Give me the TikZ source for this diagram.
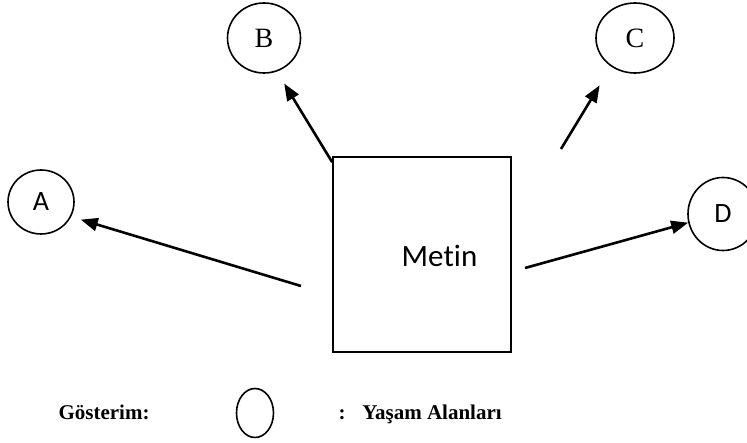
\documentclass[tikz,border=0pt]{standalone}
\usepackage{fontspec}
\setmainfont{Liberation Serif}
\newfontfamily\calibri[Ligatures=NoCommon]{Carlito}
\usetikzlibrary{arrows.meta,shapes.geometric}

\begin{document}
\begin{tikzpicture}[x=1pt, y=-1pt,
		place/.style={draw, ellipse, line width=1.6pt, inner sep=0pt},
		link/.style={-{Triangle[length=17pt,width=13pt]}, line width=2.6pt},
		sans/.style={font=\calibri\fontsize{28}{32}\selectfont},
		serif/.style={font=\fontsize{28}{32}\selectfont},
		legend/.style={font=\fontsize{21}{25}\selectfont\bfseries}]
		%%%%% START %%%%%
		
		\useasboundingbox (0, 0) rectangle (747, 443);
		
		\node[place, sans, minimum width=66pt, minimum height=64pt] (A) at (41, 202) {A};
		\node[place, serif, minimum width=73pt, minimum height=70pt] (B) at (264, 38) {B};
		\node[place, serif, minimum width=78pt, minimum height=70pt] (C) at (635, 38) {C};
		\node[place, sans, minimum width=70pt, minimum height=73pt] (D) at (723, 214) {D};
		
		\node[draw, line width=1.6pt, minimum width=178pt, minimum height=195pt, inner sep=0pt] (box) at (422, 254.5) {};
		\node[font=\calibri\fontsize{31}{36}\selectfont, anchor=base] (metin) at (439.5, 267) {Metin};
		
		\coordinate (fromA) at (301, 286);
		\coordinate[yshift=-6pt] (fromB) at (box.north west);
		\coordinate (fromC) at (561, 149);
		\coordinate (fromD) at (525, 268);
		
		\draw[link, shorten >=10pt] (fromA) -- (A.-26);
		\draw[link, shorten >=14pt] (fromB) -- (B.-69);
		\draw[link, shorten >=22pt] (fromC) -- (C.230);
		\draw[link] (fromD) -- (D.194);
		
		\node[legend, anchor=base west] (key) at (55, 420) {Gösterim:};
		\node[place, minimum width=37pt, minimum height=49pt] (keyshape) at (255, 413) {};
		\node[legend, anchor=base west] (keytext) at (335, 420) {:\hspace{0.8em}Yaşam Alanları};
		
		%%%%% END %%%%%
	\end{tikzpicture}
\end{document}
